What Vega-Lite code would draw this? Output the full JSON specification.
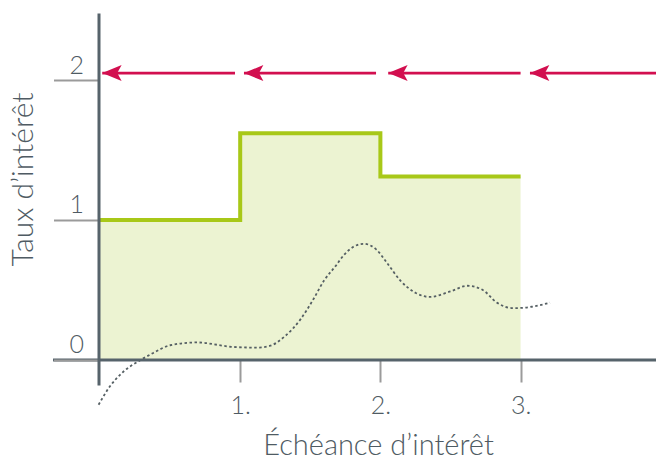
{
  "$schema": "https://vega.github.io/schema/vega-lite/v6.json",
  "autosize": {"type": "none"},
  "padding": {"left": 100, "top": 13, "right": 0, "bottom": 74},
  "width": 556,
  "height": 372,
  "background": "white",
  "config": {
    "view": {"stroke": null},
    "font": "Lato",
    "axis": {"labelFont": "Lato", "titleFont": "Lato", "labelFontWeight": 300, "titleFontWeight": 300, "labelColor": "#4f5b63", "titleColor": "#4f5b63", "grid": false}
  },
  "datasets": {
    "step": [
      {"x": 0, "y": 1.0},
      {"x": 1, "y": 1.62},
      {"x": 2, "y": 1.31},
      {"x": 3, "y": 1.31}
    ],
    "curve": [
      {"x": -0.01, "y": -0.32},
      {"x": 0.07, "y": -0.19},
      {"x": 0.16, "y": -0.09},
      {"x": 0.29, "y": 0.0},
      {"x": 0.38, "y": 0.05},
      {"x": 0.5, "y": 0.105},
      {"x": 0.69, "y": 0.125},
      {"x": 0.95, "y": 0.093},
      {"x": 1.12, "y": 0.088},
      {"x": 1.21, "y": 0.1},
      {"x": 1.32, "y": 0.17},
      {"x": 1.43, "y": 0.29},
      {"x": 1.52, "y": 0.43},
      {"x": 1.6, "y": 0.57},
      {"x": 1.68, "y": 0.67},
      {"x": 1.74, "y": 0.75},
      {"x": 1.81, "y": 0.81},
      {"x": 1.88, "y": 0.83},
      {"x": 1.97, "y": 0.79},
      {"x": 2.05, "y": 0.69},
      {"x": 2.14, "y": 0.57},
      {"x": 2.25, "y": 0.48},
      {"x": 2.35, "y": 0.45},
      {"x": 2.5, "y": 0.49},
      {"x": 2.62, "y": 0.53},
      {"x": 2.73, "y": 0.5},
      {"x": 2.83, "y": 0.41},
      {"x": 2.95, "y": 0.37},
      {"x": 3.08, "y": 0.38},
      {"x": 3.21, "y": 0.41}
    ],
    "arrows": [
      {"x": 0.016, "x2": 0.963, "y": 2.05},
      {"x": 1.027, "x2": 1.969, "y": 2.05},
      {"x": 2.056, "x2": 3.0, "y": 2.05},
      {"x": 3.067, "x2": 3.97, "y": 2.05}
    ],
    "axisline": [
      {"x": -0.335, "x2": 3.97, "y": 0}
    ]
  },
  "layer": [
    {
      "data": {"name": "step"},
      "mark": {"type": "area", "interpolate": "step-after", "color": "#ecf3d2"},
      "encoding": {
        "x": {"field": "x", "type": "quantitative", "scale": {"domain": [0, 3.966], "nice": false, "zero": false},
          "axis": {"orient": "bottom", "offset": -25, "domain": false, "values": [1, 2, 3], "tickSize": 22, "tickColor": "#9b9b9b", "tickWidth": 2, "labelExpr": "datum.value + '.'", "labelFontSize": 25, "labelBaseline": "alphabetic", "labelPadding": 31, "title": "Échéance d’intérêt", "titleFontSize": 29, "titleBaseline": "alphabetic", "titleY": 94}},
        "y": {"field": "y", "type": "quantitative", "scale": {"domain": [-0.179, 2.479], "nice": false, "zero": false},
          "axis": {"orient": "left", "offset": 1.5, "zindex": 1, "domain": true, "domainColor": "#56636b", "domainWidth": 3, "values": [0, 1, 2], "labelExpr": "format(datum.value, 'd')", "tickSize": 45, "tickColor": "#9b9b9b", "tickWidth": 2, "labelFontSize": 25, "labelAlign": "right", "labelBaseline": "alphabetic", "labelOffset": -7, "labelPadding": -30, "title": "Taux d’intérêt", "titleFontSize": 30, "titleAngle": -90, "titleAlign": "center", "titleBaseline": "middle", "titleX": -75, "titleY": 166}}
      }
    },
    {
      "data": {"name": "step"},
      "mark": {"type": "line", "interpolate": "step-after", "color": "#a8c818", "strokeWidth": 4},
      "encoding": {
        "x": {"field": "x", "type": "quantitative"},
        "y": {"field": "y", "type": "quantitative"}
      }
    },
    {
      "data": {"name": "curve"},
      "mark": {"type": "line", "interpolate": "monotone", "color": "#555f63", "strokeWidth": 1.8, "strokeDash": [2.5, 2.5]},
      "encoding": {
        "x": {"field": "x", "type": "quantitative"},
        "y": {"field": "y", "type": "quantitative"}
      }
    },
    {
      "data": {"name": "axisline"},
      "mark": {"type": "rule", "color": "#56636b", "strokeWidth": 3},
      "encoding": {
        "x": {"field": "x", "type": "quantitative"},
        "x2": {"field": "x2"},
        "y": {"field": "y", "type": "quantitative"}
      }
    },
    {
      "data": {"name": "arrows"},
      "mark": {"type": "rule", "color": "#d20f4f", "strokeWidth": 2.8},
      "encoding": {
        "x": {"field": "x", "type": "quantitative"},
        "x2": {"field": "x2"},
        "y": {"field": "y", "type": "quantitative"}
      }
    },
    {
      "data": {"name": "arrows"},
      "mark": {"type": "point", "filled": true, "opacity": 1, "color": "#d20f4f", "strokeWidth": 0, "size": 376, "shape": "M0,0L2,-0.82L1.55,0L2,0.82Z"},
      "encoding": {
        "x": {"field": "x", "type": "quantitative"},
        "y": {"field": "y", "type": "quantitative"}
      }
    }
  ]
}
